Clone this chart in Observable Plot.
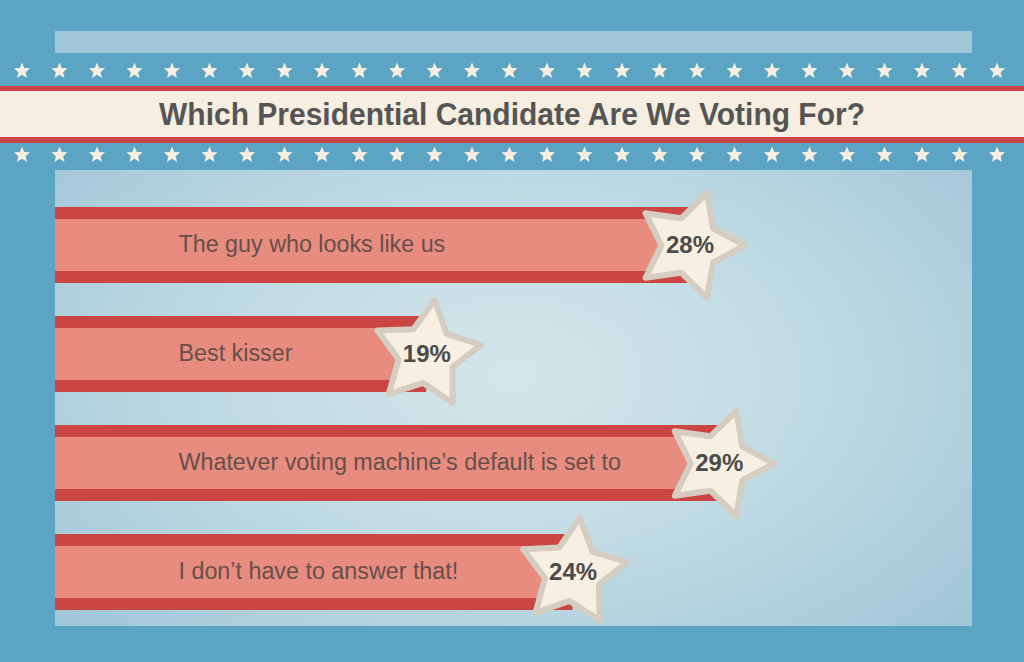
<!DOCTYPE html>
<html><head><meta charset="utf-8">
<script src="https://cdn.jsdelivr.net/npm/d3@7"></script>
<script src="https://cdn.jsdelivr.net/npm/@observablehq/plot@0.6"></script>
<style>
html,body{margin:0;padding:0;}
body{width:1024px;height:662px;background:#5ba4c3;position:relative;overflow:hidden;font-family:"Liberation Sans",Arial,sans-serif;}
#topbar{position:absolute;left:55px;top:31px;width:917px;height:22px;background:#a2c6d8;}
#header{position:absolute;left:0;top:0;}
#panel{position:absolute;left:55px;top:170px;width:917px;height:456px;
  background:radial-gradient(ellipse 65% 80% at 50% 45%, #d5e6ea 0%, #c3dce4 45%, #a3c7d9 100%);}
#chart{position:absolute;left:55px;top:170px;}
#chart svg{overflow:visible;}
</style></head><body>
<div id="topbar"></div>
<svg id="header" width="1024" height="170"></svg>
<div id="panel"></div>
<div id="chart"></div>
<script>
// ---- data ----
const categories = [
  "The guy who looks like us",
  "Best kisser",
  "Whatever voting machine\u2019s default is set to",
  "I don\u2019t have to answer that!"
];
const values = [28, 19, 29, 24];
const valueLabels = ["28%", "19%", "29%", "24%"];
const title = "Which Presidential Candidate Are We Voting For?";

// ---- styling constants ----
const starTilt = [18, 8, 18, 7];
const xStart = 6.3, xEnd = 37.66;

// fat five-pointed star symbol
function makeStar(ratio) {
  return {
    draw(ctx, size) {
      const R = Math.sqrt(size / Math.PI), r = R * ratio;
      for (let k = 0; k < 10; k++) {
        const a = -Math.PI / 2 + k * Math.PI / 5;
        const rad = k % 2 ? r : R;
        const px = rad * Math.cos(a), py = rad * Math.sin(a);
        k ? ctx.lineTo(px, py) : ctx.moveTo(px, py);
      }
      ctx.closePath();
    }
  };
}
const bigStar = makeStar(0.52);
const smallStar = makeStar(0.45);

// ---- header decoration ----
const hdr = d3.select("#header");
hdr.append("rect").attr("x", 0).attr("y", 86).attr("width", 1024).attr("height", 5).attr("fill", "#c9474a");
hdr.append("rect").attr("x", 0).attr("y", 91).attr("width", 1024).attr("height", 46).attr("fill", "#f6eee0");
hdr.append("rect").attr("x", 0).attr("y", 137).attr("width", 1024).attr("height", 6).attr("fill", "#c9474a");
hdr.append("text").attr("x", 512).attr("y", 125).attr("text-anchor", "middle")
  .attr("font-family", "'Liberation Sans',Arial,sans-serif")
  .attr("font-weight", "bold").attr("font-size", 32).attr("fill", "#555555")
  .attr("textLength", 706).attr("lengthAdjust", "spacingAndGlyphs").text(title);
const starPath = (() => { const p = d3.path(); smallStar.draw(p, Math.PI * 8.5 * 8.5); return p.toString(); })();
for (const cy of [71, 155]) {
  for (let i = 0; i < 27; i++) {
    hdr.append("path").attr("d", starPath).attr("transform", `translate(${22 + i * 37.5},${cy})`).attr("fill", "#f6eee0");
  }
}

// ---- chart ----
const data = categories.map((c, i) => ({category: c, value: values[i], label: valueLabels[i], tilt: starTilt[i]}));

const chart = Plot.plot({
  width: 917, height: 457,
  marginLeft: 0, marginRight: 0, marginTop: 36, marginBottom: 17,
  x: {domain: [xStart, xEnd], axis: null},
  y: {domain: categories, axis: null, paddingInner: 0.307, paddingOuter: 0},
  style: {background: "transparent", overflow: "visible", fontFamily: "'Liberation Sans',Arial,sans-serif"},
  marks: [
    Plot.barX(data, {x1: xStart, x2: "value", y: "category", fill: "#cb4542"}),
    Plot.barX(data, {x1: xStart, x2: "value", y: "category", fill: "#e88c7f", insetTop: 12, insetBottom: 12}),
    Plot.text(data, {y: "category", text: "category", frameAnchor: "left", dx: 123, dy: -1, textAnchor: "start",
      fontSize: 23.3, fill: "#664f4c"}),
    Plot.dot(data, {x: "value", y: "category", r: 55, symbol: bigStar, rotate: "tilt",
      fill: "#f7efe1", stroke: "#d5cdc1", strokeWidth: 6, strokeLinejoin: "round"}),
    Plot.text(data, {x: "value", y: "category", text: "label", fontSize: 24, fontWeight: "bold", fill: "#4b4b4b"})
  ]
});
document.getElementById("chart").appendChild(chart);
</script>
</body></html>
